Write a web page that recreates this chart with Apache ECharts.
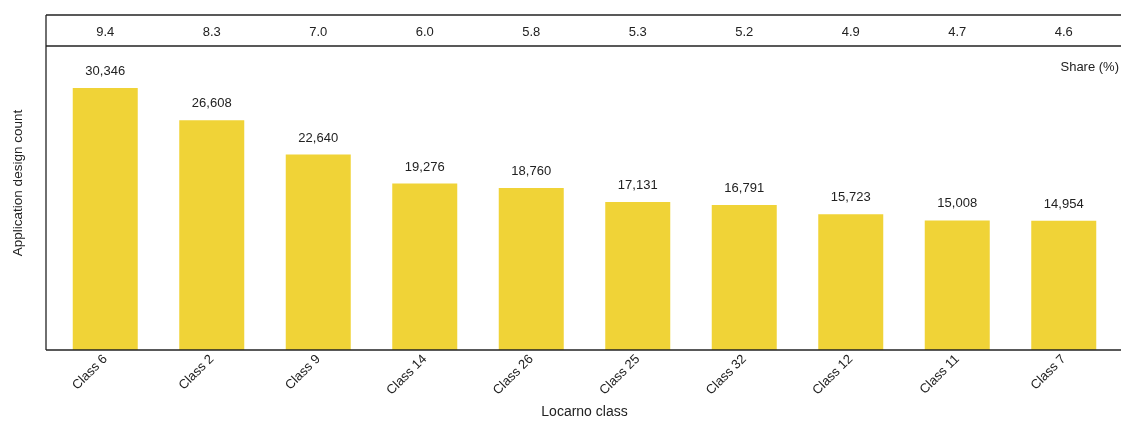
<!DOCTYPE html>
<html><head><meta charset="utf-8">
<script src="https://cdn.jsdelivr.net/npm/echarts@6/dist/echarts.min.js"></script>
<style>html,body{margin:0;padding:0;background:#fff}#c{width:1121px;height:422px}</style>
</head><body><div id="c"></div>
<script>
const categories = ['Class 6','Class 2','Class 9','Class 14','Class 26','Class 25','Class 32','Class 12','Class 11','Class 7'];
const counts = [30346, 26608, 22640, 19276, 18760, 17131, 16791, 15723, 15008, 14954];
const shares = ['9.4','8.3','7.0','6.0','5.8','5.3','5.2','4.9','4.7','4.6'];

const FONT = '"Liberation Sans", Arial, sans-serif';
const chart = echarts.init(document.getElementById('c'), null, {renderer:'canvas'});
const lineStyle = {stroke:'#222', lineWidth:1.3};
chart.setOption({
  animation:false,
  textStyle:{fontFamily:FONT},
  grid:{left:52, right:4, top:46, bottom:72, containLabel:false, outerBoundsMode:'none'},
  xAxis:[{
    type:'category', data:categories,
    name:'Locarno class', nameLocation:'middle', nameGap:55,
    nameTextStyle:{fontSize:14, color:'#222', fontFamily:FONT},
    axisLine:{show:false}, axisTick:{show:false},
    axisLabel:{rotate:45, fontSize:13, color:'#222', margin:7, fontFamily:FONT}
  },{
    type:'category', data:shares, position:'top',
    axisLine:{show:false}, axisTick:{show:false},
    axisLabel:{fontSize:13, color:'#222', margin:7, fontFamily:FONT}
  }],
  yAxis:{
    type:'value', min:0, max:35200, show:true,
    axisLine:{show:false}, axisTick:{show:false}, axisLabel:{show:false}, splitLine:{show:false}
  },
  series:[{
    type:'bar', data:counts, barWidth:65,
    itemStyle:{color:'#F0D337'},
    label:{show:true, position:'top', distance:10, fontSize:13, color:'#222', fontFamily:FONT,
      formatter:p=>p.value.toLocaleString('en-US')}
  }],
  graphic:[
    {type:'line', shape:{x1:46,y1:15,x2:1121,y2:15}, style:lineStyle, silent:true},
    {type:'line', shape:{x1:46,y1:46,x2:1121,y2:46}, style:lineStyle, silent:true},
    {type:'line', shape:{x1:46,y1:350,x2:1121,y2:350}, style:lineStyle, silent:true, z:10},
    {type:'line', shape:{x1:46,y1:15,x2:46,y2:350}, style:lineStyle, silent:true},
    {type:'text', x:18, y:183, rotation:Math.PI/2,
      style:{text:'Application design count', fontSize:13.5, fill:'#222', fontFamily:FONT, align:'center', verticalAlign:'middle'}},
    {type:'text', right:2, top:61, style:{text:'Share (%)', fontSize:13, fill:'#222', fontFamily:FONT}}
  ]
});
</script></body></html>
